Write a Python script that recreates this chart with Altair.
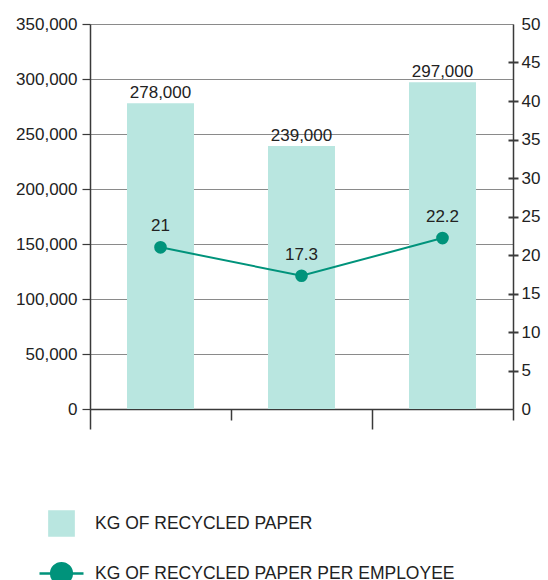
import altair as alt
import pandas as pd

# ---- data ----
categories = ["Period 1", "Period 2", "Period 3"]
paper_kg = [278000, 239000, 297000]
paper_labels = ["278,000", "239,000", "297,000"]
per_employee = [21, 17.3, 22.2]
per_employee_labels = ["21", "17.3", "22.2"]
series_names = ["KG OF RECYCLED PAPER", "KG OF RECYCLED PAPER PER EMPLOYEE"]
left_ticks = list(range(0, 350001, 50000))
right_labels = list(range(0, 51, 5))
right_inner_ticks = list(range(5, 46, 5))

LIGHT = "#b9e6e0"
TEAL = "#00937b"
FONT = "Liberation Sans"
TXT = "#222222"
AX = "#3a3a3a"
FS = 17

df = pd.DataFrame({
    "cat": categories,
    "paper": paper_kg,
    "paper_label": paper_labels,
    "per_emp": per_employee,
    "per_emp_label": per_employee_labels,
})
legend_df = pd.DataFrame({"series": series_names})

W, H = 423, 385

x_enc = alt.X(
    "cat:N", sort=categories,
    scale=alt.Scale(paddingInner=0, paddingOuter=0),
    axis=alt.Axis(labels=False, title=None, tickBand="extent",
                  tickSize={"condition": {"test": "datum.index == 0 || datum.index == 1",
                                          "value": 11}, "value": 20},
                  domainColor=AX, tickColor=AX, domainWidth=1.5, tickWidth=1.5, grid=False),
)

base = alt.Chart(df)

bars = base.mark_bar(color=LIGHT, width={"band": 0.475}).encode(
    x=x_enc,
    y=alt.Y("paper:Q", scale=alt.Scale(domain=[0, 350000], nice=False),
            axis=alt.Axis(values=left_ticks, format=",.0f", title=None, tickSize=8,
                          labelPadding=5, grid=True, gridColor="#8a8a8a", gridWidth=1,
                          domainColor=AX, tickColor=AX, domainWidth=1.5, tickWidth=1.2,
                          labelFont=FONT, labelFontSize=FS, labelColor=TXT)),
)

bar_text = base.mark_text(font=FONT, fontSize=FS, color=TXT, baseline="bottom", dy=-1).encode(
    x=x_enc,
    y=alt.Y("paper:Q", scale=alt.Scale(domain=[0, 350000], nice=False), axis=None),
    text="paper_label:N",
)

line = base.mark_line(color=TEAL, strokeWidth=2).encode(
    x=x_enc,
    y=alt.Y("per_emp:Q", scale=alt.Scale(domain=[0, 50], nice=False),
            axis=alt.Axis(orient="right", values=right_labels, title=None, ticks=False,
                          labelPadding=8, grid=False, domainColor=AX, domainWidth=1.5,
                          labelFont=FONT, labelFontSize=FS, labelColor=TXT)),
)

points = base.mark_point(filled=True, color=TEAL, size=160, opacity=1).encode(
    x=x_enc,
    y=alt.Y("per_emp:Q", scale=alt.Scale(domain=[0, 50], nice=False),
            axis=alt.Axis(orient="right", offset=-5, values=right_inner_ticks, title=None,
                          labels=False, domain=False, grid=False, tickSize=10,
                          tickColor=AX, tickWidth=2)),
)

point_text = base.mark_text(font=FONT, fontSize=FS, color=TXT, baseline="bottom", dy=-12).encode(
    x=x_enc,
    y=alt.Y("per_emp:Q", scale=alt.Scale(domain=[0, 50], nice=False), axis=None),
    text="per_emp_label:N",
)

square_path = "M-0.55,-0.55H0.55V0.55H-0.55Z"
line_path = ("M-1,0H-0.47M0.47,0H1M-0.47,0A0.47,0.47,0,1,0,0.47,0"
             "A0.47,0.47,0,1,0,-0.47,0Z")

legend_props = dict(title=None, orient="none", legendX=-52, legendY=476,
                    direction="vertical", symbolSize=1936,
                    symbolStrokeWidth=2.5, symbolOpacity=1,
                    labelOffset=10, rowPadding=9, padding=0,
                    labelFont=FONT, labelFontSize=17.5, labelColor=TXT,
                    labelLimit=500)

legend_layer = alt.Chart(legend_df).mark_point(filled=True, opacity=0).encode(
    color=alt.Color("series:N", sort=series_names,
                    scale=alt.Scale(domain=series_names, range=[LIGHT, TEAL]),
                    legend=alt.Legend(**legend_props)),
    stroke=alt.Stroke("series:N", sort=series_names,
                      scale=alt.Scale(domain=series_names, range=[LIGHT, TEAL]),
                      legend=alt.Legend(**legend_props)),
    shape=alt.Shape("series:N", sort=series_names,
                    scale=alt.Scale(domain=series_names, range=[square_path, line_path]),
                    legend=alt.Legend(**legend_props)),
)

chart = alt.layer(bars, bar_text, line, points, point_text, legend_layer).resolve_scale(
    y="independent"
).properties(
    width=W, height=H,
    autosize=alt.AutoSizeParams(type="none"),
    padding={"left": 90, "top": 24, "right": 35, "bottom": 171},
).configure_view(stroke=None).configure(background="white")

chart.save("out.html", embed_options={"renderer": "svg", "actions": False})
